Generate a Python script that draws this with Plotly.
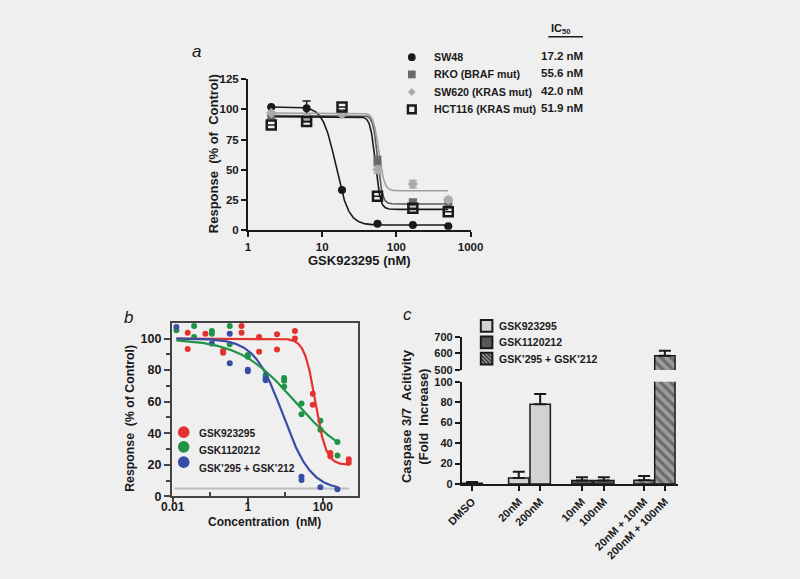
import numpy as np
import plotly.graph_objects as go

W, H = 800, 579
BG = "#efefef"
FONT = "Liberation Sans"
INK = "#1a1a1a"
NB = "\u00a0"


def fx(x):
    return x / W


def fy(y):
    return 1 - y / H


def four_pl(x, p):
    top, bottom, mid, hill = p
    return bottom + (top - bottom) / (1 + (x / mid) ** hill)


# ---------------- Panel a data ----------------
a_dose = [2.06, 6.17, 18.5, 55.6, 166.7, 500.0]
a_names = ["SW48", "RKO (BRAF mut)", "SW620 (KRAS mut)", "HCT116 (KRAS mut)"]
a_ic50_text = ["17.2 nM", "55.6 nM", "42.0 nM", "51.9 nM"]
a_sw48 = [102, 101, 33, 5, 4, 3]
a_sw48_err = [0, 6, 0, 0, 0, 0]
a_rko = [95, 92, 97, 57, 23, 21]
a_rko_err = [0, 0, 0, 4, 2, 0]
a_sw620 = [97, 93, 96, 50, 38, 25]
a_sw620_err = [0, 0, 0, 3, 3, 2]
a_hct116 = [87, 90, 102, 28, 18, 15]
a_hct116_err = [0, 0, 0, 0, 0, 0]
# fitted 4-parameter logistic curves: top, bottom, midpoint, hill
a_fit_sw48 = [102, 4, 15.3, 5.0]
a_fit_rko = [95, 21.5, 56, 14]
a_fit_sw620 = [97, 32.5, 58, 12]
a_fit_hct116 = [94, 17, 52, 13]

# ---------------- Panel b data ----------------
b_names = ["GSK923295", "GSK1120212", "GSK\u2019295 + GSK\u2019212"]
b_red_dose = [0.025, 0.025, 0.074, 0.22, 0.22, 0.68, 0.68, 2.0, 2.0, 6.0, 6.0,
              18, 18, 54, 54, 158, 158, 490, 490]
b_red_resp = [103.6, 93.3, 103, 92.3, 91, 108, 103.6, 101, 91.7, 102.7, 93,
              104.8, 100, 65, 58, 27.5, 25.4, 23.5, 21.4]
b_green_dose = [0.0125, 0.037, 0.037, 0.11, 0.11, 0.33, 0.33, 1.0, 1.0, 3.0, 3.0,
                9.3, 9.3, 9.3, 27, 27, 86, 86, 245, 245]
b_green_resp = [105.2, 108, 101, 104.8, 103.1, 108, 96.4, 89.6, 88.5, 76.7, 75.4,
                75, 73.3, 69.4, 58.8, 52, 48, 42.3, 34.4, 26]
b_blue_dose = [0.0125, 0.11, 0.33, 0.33, 1.0, 1.0, 3.0, 3.0, 27, 27, 86, 245]
b_blue_resp = [107.3, 96.9, 103, 84.4, 80.2, 79.2, 74.6, 73.6, 12.5, 10.4, 5.8, 4.6]
b_fit_red = [100, 20, 63, 3.0]
b_fit_green = [100, 20, 18.2, 0.584]
b_fit_blue = [100, 4, 8.5, 1.15]
b_red_span = [0.0125, 490]
b_green_span = [0.0125, 245]
b_blue_span = [0.0125, 245]
b_baseline = 5
b_baseline_span = [0.011, 490]

# ---------------- Panel c data ----------------
c_labels = ["DMSO", "20nM", "200nM", "10nM", "100nM", "20nM + 10nM", "200nM + 100nM"]
c_series = ["DMSO", "GSK923295", "GSK923295", "GSK1120212", "GSK1120212", "combo", "combo"]
c_values = [0.8, 6, 78, 3.5, 3.5, 3.8, 586]
c_err = [1.2, 6, 10, 3, 3, 4, 29]
c_legend = ["GSK923295", "GSK1120212", "GSK\u2019295 + GSK\u2019212"]

# layout positions of the bars (in bar widths)
c_xpos = [0, 2.2, 3.21, 5.18, 6.21, 8.11, 9.09]

RED, GREEN, BLUE = "#e5312d", "#1f9446", "#3a4da6"
LIGHT, DARK, HATCH_BG, HATCH_FG = "#d2d2d2", "#585858", "#9c9c9c", "#3a3a3a"

fig = go.Figure()

# ----- panel a traces -----
a_styles = [
    (a_sw48, a_sw48_err, a_fit_sw48, INK, dict(symbol="circle", size=8, color=INK)),
    (a_rko, a_rko_err, a_fit_rko, "#5a5a5a", dict(symbol="square", size=8, color="#6a6a6a")),
    (a_sw620, a_sw620_err, a_fit_sw620, "#a0a0a0", dict(symbol="diamond", size=8, color="#ababab")),
    (a_hct116, a_hct116_err, a_fit_hct116, INK,
     dict(symbol="square-open", size=9, color=INK, line=dict(width=2.5, color=INK))),
]
xs_a = np.logspace(np.log10(a_dose[0]), np.log10(a_dose[-1]), 500)
for vals, err, fit, lc, mk in a_styles:
    fig.add_trace(go.Scatter(x=xs_a, y=four_pl(xs_a, fit), mode="lines",
                             line=dict(color=lc, width=1.6), xaxis="x", yaxis="y",
                             hoverinfo="skip", showlegend=False))
for (vals, err, fit, lc, mk), name in zip(a_styles, a_names):
    fig.add_trace(go.Scatter(x=a_dose, y=vals, mode="markers", marker=mk, name=name,
                             error_y=dict(type="data", array=err, color=mk["color"],
                                          thickness=1.5, width=4),
                             xaxis="x", yaxis="y", showlegend=False))

# ----- panel b traces -----
fig.add_trace(go.Scatter(x=b_baseline_span, y=[b_baseline, b_baseline], mode="lines",
                         line=dict(color="#bdbdbd", width=2), xaxis="x2", yaxis="y2",
                         showlegend=False, hoverinfo="skip"))
for dose, resp, col, name in [
        (b_red_dose, b_red_resp, RED, b_names[0]),
        (b_green_dose, b_green_resp, GREEN, b_names[1]),
        (b_blue_dose, b_blue_resp, BLUE, b_names[2])]:
    fig.add_trace(go.Scatter(x=dose, y=resp, mode="markers",
                             marker=dict(color=col, size=6), name=name,
                             xaxis="x2", yaxis="y2", showlegend=False))
for fit, span, col in [(b_fit_red, b_red_span, RED), (b_fit_blue, b_blue_span, BLUE),
                       (b_fit_green, b_green_span, GREEN)]:
    xs = np.logspace(np.log10(span[0]), np.log10(span[1]), 400)
    fig.add_trace(go.Scatter(x=xs, y=four_pl(xs, fit), mode="lines",
                             line=dict(color=col, width=2.2), xaxis="x2", yaxis="y2",
                             showlegend=False, hoverinfo="skip"))

# ----- panel c traces -----
series_style = {
    "DMSO": dict(color=LIGHT),
    "GSK923295": dict(color=LIGHT),
    "GSK1120212": dict(color=DARK),
    "combo": dict(color=HATCH_BG, pattern=dict(shape="\\", fgcolor=HATCH_FG,
                                               bgcolor=HATCH_BG, size=7, solidity=0.45)),
}
for s in ["DMSO", "GSK923295", "GSK1120212", "combo"]:
    idx = [i for i, v in enumerate(c_series) if v == s]
    xs = [c_xpos[i] for i in idx]
    ys = [c_values[i] for i in idx]
    es = [c_err[i] for i in idx]
    mk = dict(series_style[s])
    mk["line"] = dict(color=INK, width=1.5)
    for yax in (["y3", "y4"] if s == "combo" else ["y3"]):
        fig.add_trace(go.Bar(x=xs, y=ys, width=0.96, marker=mk, xaxis="x3", yaxis=yax,
                             error_y=dict(type="data", symmetric=False, array=es,
                                          arrayminus=[0] * len(es), color=INK,
                                          thickness=2, width=6),
                             showlegend=False, name=s))

tickfont = dict(family=FONT, size=11, color=INK, weight="bold")

fig.update_layout(
    width=W, height=H, margin=dict(l=0, r=0, t=0, b=0),
    paper_bgcolor=BG, plot_bgcolor=BG, barmode="overlay", showlegend=False,
    font=dict(family=FONT, color=INK),
    xaxis=dict(type="log", range=[0, 3], domain=[fx(240.7), fx(471.7)], anchor="y",
               showline=True, linewidth=2, linecolor=INK, ticks="outside", ticklen=5,
               tickwidth=2, tickcolor=INK, tickvals=[1, 10, 100, 1000],
               ticktext=["1", "10", "100", "1000"], showgrid=False, zeroline=False,
               tickfont=dict(tickfont, size=11.5)),
    yaxis=dict(range=[0, 125], domain=[fy(229), fy(75)], anchor="x",
               showline=True, linewidth=2, linecolor=INK, ticks="outside", ticklen=5,
               tickwidth=2, tickcolor=INK, tickvals=[0, 25, 50, 75, 100, 125],
               showgrid=False, zeroline=False, tickfont=dict(tickfont, size=11.5)),
    xaxis2=dict(type="log", range=[-2.03, 2.94], domain=[fx(161.5), fx(355)], anchor="y2",
                showline=True, mirror=True, linewidth=1.5, linecolor="#444",
                ticks="outside", ticklen=4, tickwidth=1.5, tickcolor="#444",
                tickvals=[0.01, 1, 100], ticktext=["0.01", "1", "100"],
                ticklabelstandoff=-6,
                minor=dict(tickvals=[0.1, 10], ticks="inside", ticklen=5, tickwidth=1.5,
                           tickcolor="#444", showgrid=False),
                showgrid=False, zeroline=False, tickfont=dict(tickfont, size=12)),
    yaxis2=dict(range=[0, 110], domain=[fy(501.7), fy(324)], anchor="x2",
                showline=True, mirror=True, linewidth=1.5, linecolor="#444",
                ticks="outside", ticklen=6, tickwidth=1.5, tickcolor="#444",
                tickvals=[0, 20, 40, 60, 80, 100],
                minor=dict(tickvals=[10, 30, 50, 70, 90], ticks="outside", ticklen=4,
                           tickwidth=1.5, tickcolor="#444", showgrid=False),
                showgrid=False, zeroline=False, tickfont=dict(tickfont, size=12.5)),
    xaxis3=dict(range=[-0.48, 9.7], domain=[fx(462.7), fx(686.7)], anchor="y3",
                showline=True, linewidth=2, linecolor=INK, ticks="outside", ticklen=5,
                tickwidth=2, tickcolor=INK, tickvals=c_xpos, ticktext=c_labels,
                tickangle=-45, showgrid=False, zeroline=False, tickfont=tickfont),
    yaxis3=dict(range=[0, 100], domain=[fy(489), fy(384.3)], anchor="x3",
                showline=True, linewidth=2, linecolor=INK, ticks="outside", ticklen=5,
                tickwidth=2, tickcolor=INK, tickvals=[0, 20, 40, 60, 80, 100],
                showgrid=False, zeroline=False, tickfont=tickfont),
    yaxis4=dict(range=[500, 700], domain=[fy(372.3), fy(338.3)], anchor="x3",
                showline=True, linewidth=2, linecolor=INK, ticks="outside", ticklen=5,
                tickwidth=2, tickcolor=INK, tickvals=[500, 600, 700],
                showgrid=False, zeroline=False, tickfont=tickfont),
)

ann = []
shapes = []


def text(x, y, s, size=11, bold=True, xanchor="center", angle=0, italic=False, color=INK):
    ann.append(dict(x=fx(x), y=fy(y), xref="paper", yref="paper", text=s, showarrow=False,
                    xanchor=xanchor, yanchor="middle", textangle=angle,
                    font=dict(family=FONT, size=size, color=color,
                              weight="bold" if bold else "normal",
                              style="italic" if italic else "normal")))


# panel letters
text(187, 47, "a", size=17, bold=False, italic=True)
text(117, 319, "b", size=17, bold=False, italic=True)
text(406, 316, "c", size=17, bold=False, italic=True)

# panel a titles
text(205, 151, f"Response{NB}{NB}(% of{NB}{NB}Control)", size=13, angle=-90)
text(356.5, 260.5, "GSK923295 (nM)", size=13)

# panel a legend
a_rows = [52.3, 70, 88, 105.7]
for name, val, yy in zip(a_names, a_ic50_text, a_rows):
    text(431.5, yy, name, size=10.7, xanchor="left")
    text(590, yy - 1, val, size=11.5, xanchor="right")
text(566, 24, "IC<sub>50</sub>", size=11)
shapes.append(dict(type="line", xref="paper", yref="paper", x0=fx(552.3), x1=fx(588.3),
                   y0=fy(31.5), y1=fy(31.5), line=dict(color=INK, width=1.5)))
mx = 410.7
cy = a_rows[0]
shapes.append(dict(type="circle", xref="paper", yref="paper", x0=fx(mx - 4), x1=fx(mx + 4),
                   y0=fy(cy + 4), y1=fy(cy - 4), fillcolor=INK, line=dict(width=0)))
cy = a_rows[1]
shapes.append(dict(type="rect", xref="paper", yref="paper", x0=fx(mx - 4), x1=fx(mx + 4),
                   y0=fy(cy + 4), y1=fy(cy - 4), fillcolor="#6a6a6a", line=dict(width=0)))
cy = a_rows[2]
shapes.append(dict(type="path", xref="paper", yref="paper",
                   path=f"M{fx(mx)},{fy(cy - 4)} L{fx(mx + 4)},{fy(cy)} L{fx(mx)},{fy(cy + 4)} "
                        f"L{fx(mx - 4)},{fy(cy)} Z",
                   fillcolor="#ababab", line=dict(width=0)))
cy = a_rows[3]
shapes.append(dict(type="rect", xref="paper", yref="paper", x0=fx(mx - 4), x1=fx(mx + 4),
                   y0=fy(cy + 4), y1=fy(cy - 4), fillcolor=BG, line=dict(color=INK, width=2.5)))

# panel b titles + legend
text(118, 421.5, f"Response{NB}{NB}(% of{NB}Control)", size=12.3, angle=-90)
text(258, 528, f"Concentration{NB}{NB}(nM)", size=12)
b_circ_rows = [436, 451, 466.7]
b_text_rows = [437, 455, 473.3]
for col, name, cy, ty in zip([RED, GREEN, BLUE], b_names, b_circ_rows, b_text_rows):
    shapes.append(dict(type="circle", xref="paper", yref="paper", x0=fx(174 - 6),
                       x1=fx(174 + 6), y0=fy(cy + 6), y1=fy(cy - 6), fillcolor=col,
                       line=dict(width=0)))
    text(187.3, ty, name, size=10.2, xanchor="left")

# panel c titles + legend
text(413.5, 420, f"Caspase 3/7{NB}{NB}Acitivity<br>(Fold{NB}{NB}Increase)", size=13, angle=-90)


def hatch_path(x0, y0, x1, y1, step):
    w, h = x1 - x0, y1 - y0
    segs = []
    for k in np.arange(-h + step * 0.5, w, step):
        t0, t1 = max(0.0, -k), min(h, w - k)
        if t1 > t0:
            segs.append(f"M{fx(x0 + k + t0)},{fy(y0 + t0)} L{fx(x0 + k + t1)},{fy(y0 + t1)}")
    return " ".join(segs)


c_rows = [327.3, 344, 360.7]
c_fill = [LIGHT, DARK, HATCH_BG]
bx = 488.3
for name, cy, fc in zip(c_legend, c_rows, c_fill):
    shapes.append(dict(type="rect", xref="paper", yref="paper", x0=fx(bx - 6), x1=fx(bx + 6),
                       y0=fy(cy + 6), y1=fy(cy - 6), fillcolor=fc, line=dict(width=0)))
    if fc == HATCH_BG:
        shapes.append(dict(type="path", xref="paper", yref="paper",
                           path=hatch_path(bx - 6, cy - 6, bx + 6, cy + 6, 4),
                           line=dict(color=HATCH_FG, width=1.5)))
    shapes.append(dict(type="rect", xref="paper", yref="paper", x0=fx(bx - 6), x1=fx(bx + 6),
                       y0=fy(cy + 6), y1=fy(cy - 6), line=dict(color=INK, width=2)))
    text(499.3, cy, name, size=10.5, xanchor="left")

fig.update_layout(annotations=ann, shapes=shapes)
fig.write_html("out.html", config={"displayModeBar": False},
               post_script="document.body.style.margin='0';"
                           "document.body.style.overflow='hidden';"
                           f"document.body.style.background='{BG}';")
